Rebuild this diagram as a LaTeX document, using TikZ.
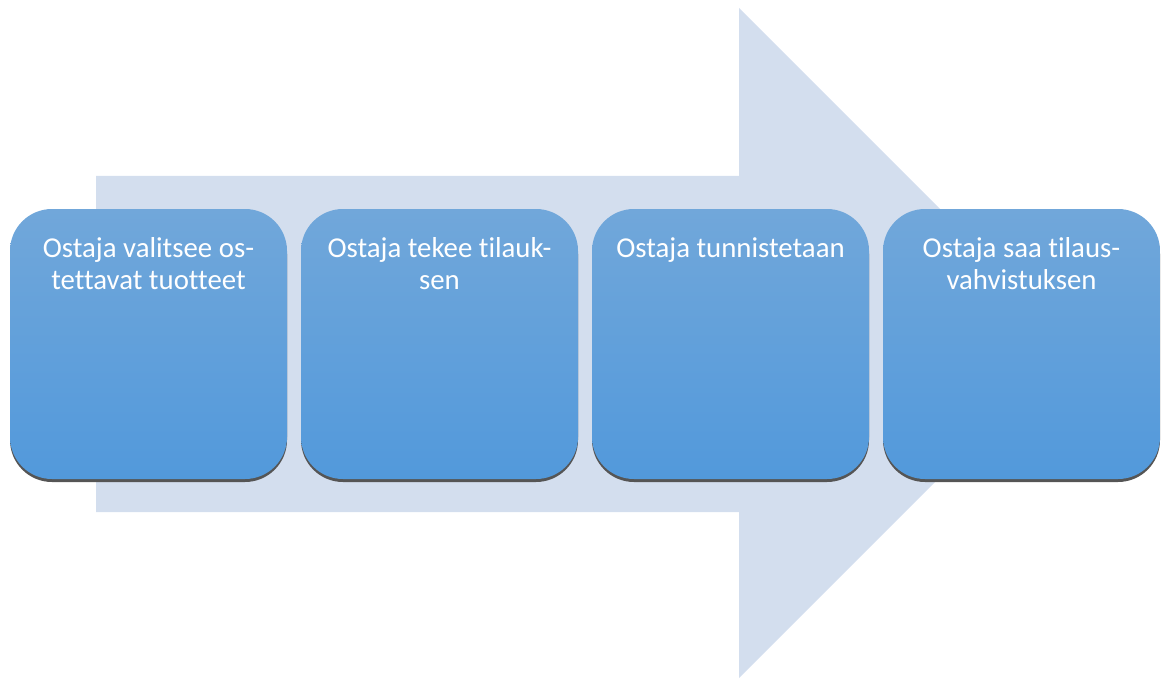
\documentclass[tikz,border=0pt]{standalone}
\usepackage{fontspec}
\setmainfont{Carlito}[Ligatures={NoCommon,NoContextual,NoRequired,NoRare,TeX}]
\usetikzlibrary{shadows}
\definecolor{arrowfill}{RGB}{211,222,238}
\definecolor{boxtop}{RGB}{113,167,218}
\definecolor{boxbot}{RGB}{82,153,219}
\definecolor{shadowc}{RGB}{85,85,85}
\tikzset{
  stepbox/.style={rounded corners=42pt, minimum width=277pt, minimum height=270pt,
    inner sep=0pt, draw=none, top color=boxtop, bottom color=boxbot,
    drop shadow={shadow xshift=0pt, shadow yshift=-3pt, fill=shadowc, opacity=1}},
  steplabel/.style={anchor=base, inner sep=0pt, text=white,
    font=\fontsize{28.8}{32.5}\selectfont},
}
\begin{document}
\begin{tikzpicture}[x=1pt,y=-1pt]
\useasboundingbox (0,0) rectangle (1161,679);
% big background arrow
\fill[arrowfill] (96,176) -- (739,176) -- (739,8) -- (1074,343) -- (739,678) -- (739,512) -- (96,512) -- cycle;
% boxes
\node[stepbox] (b1) at (148.5,344) {};
\node[stepbox] (b2) at (439.5,344) {};
\node[stepbox] (b3) at (730.5,344) {};
\node[stepbox] (b4) at (1021.5,344) {};
% labels
\node[steplabel] (t1) at (148.5,257) {\begin{tabular}[t]{@{}c@{}}Ostaja valitsee os-\\tettavat tuotteet\end{tabular}};
\node[steplabel] (t2) at (439.5,257) {\begin{tabular}[t]{@{}c@{}}Ostaja tekee tilauk-\\sen\end{tabular}};
\node[steplabel] (t3) at (730.5,257) {\begin{tabular}[t]{@{}c@{}}Ostaja tunnistetaan\end{tabular}};
\node[steplabel] (t4) at (1021.5,257) {\begin{tabular}[t]{@{}c@{}}Ostaja saa tilaus-\\vahvistuksen\end{tabular}};
\end{tikzpicture}
\end{document}
